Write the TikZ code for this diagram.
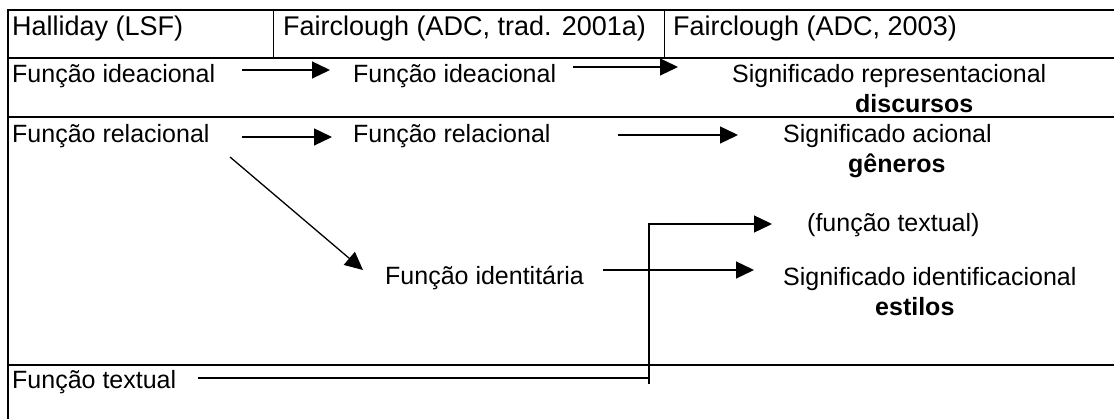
\documentclass[tikz,border=0pt]{standalone}
\usepackage{fontspec}
\setmainfont{Liberation Sans}
\usetikzlibrary{arrows.meta}
\begin{document}
\begin{tikzpicture}[x=1pt,y=-1pt,
  txt/.style={inner sep=0pt, anchor=base west, font=\fontsize{25}{30}\selectfont},
  htxt/.style={inner sep=0pt, anchor=base west, font=\fontsize{27}{30}\selectfont},
  btxt/.style={inner sep=0pt, anchor=base west, font=\fontsize{25}{30}\selectfont\bfseries},
  rule/.style={line width=1.8pt},
  divider/.style={line width=1pt},
  conn/.style={line width=1.3pt, -{Triangle[length=18pt,width=17pt]}},
  plainconn/.style={line width=1.3pt}]
\useasboundingbox (0,0) rectangle (1114,419);
% table rules
\draw[rule] (8,10) -- (1114,10);
\draw[rule] (8,58) -- (1114,58);
\draw[rule] (8,117) -- (1114,117);
\draw[line width=1.4pt] (8,365) -- (1114,365);
\draw[line width=2.4pt] (8,9) -- (8,419);
\draw[divider] (273,10) -- (273,58);
\draw[divider] (664,10) -- (664,58);
% texts
\node[htxt] (h1) at (12,36) {Halliday (LSF)};
\node[htxt] (h2) at (283,36) {Fairclough (ADC, trad. 2001a)};
\node[htxt] (h3) at (673,36) {Fairclough (ADC, 2003)};
\node[txt] (a1) at (12,83) {Função ideacional};
\node[txt] (a2) at (353,83) {Função ideacional};
\node[txt] (a3) at (732,83) {Significado representacional};
\node[btxt] (a3b) at (855,113) {discursos};
\node[txt] (b1) at (12,143) {Função relacional};
\node[txt] (b2) at (353,143) {Função relacional};
\node[txt] (b3) at (783,143) {Significado acional};
\node[btxt] (b3b) at (848,173) {gêneros};
\node[txt] (t3) at (807,232) {(função textual)};
\node[txt] (c2) at (385,285) {Função identitária};
\node[txt] (c3) at (783,286) {Significado identificacional};
\node[btxt] (c3b) at (875,316) {estilos};
\node[txt] (d1) at (12,389) {Função textual};
% connector end points
\coordinate (a1s) at (242,70);  \coordinate (a1e) at (330,70);
\coordinate (a2s) at (573,67);  \coordinate (a2e) at (678,67);
\coordinate (b1s) at (242,137); \coordinate (b1e) at (332,137);
\coordinate (b2s) at (618,135); \coordinate (b2e) at (738,135);
\coordinate (bds) at (230,157); \coordinate (bde) at (363,270);
\coordinate (c2s) at (603,270); \coordinate (c2e) at (754,270);
\coordinate (d1s) at (198,378); \coordinate (d1k) at (649,378);
\coordinate (d1b) at (649,384); \coordinate (d1e) at (772,224);
% connectors
\draw[conn] (a1s) -- (a1e);
\draw[conn] (a2s) -- (a2e);
\draw[conn] (b1s) -- (b1e);
\draw[conn] (b2s) -- (b2e);
\draw[conn] (bds) -- (bde);
\draw[conn] (c2s) -- (c2e);
\draw[plainconn] (d1s) -- (d1k);
\draw[conn] (d1b) |- (d1e);
\end{tikzpicture}
\end{document}
